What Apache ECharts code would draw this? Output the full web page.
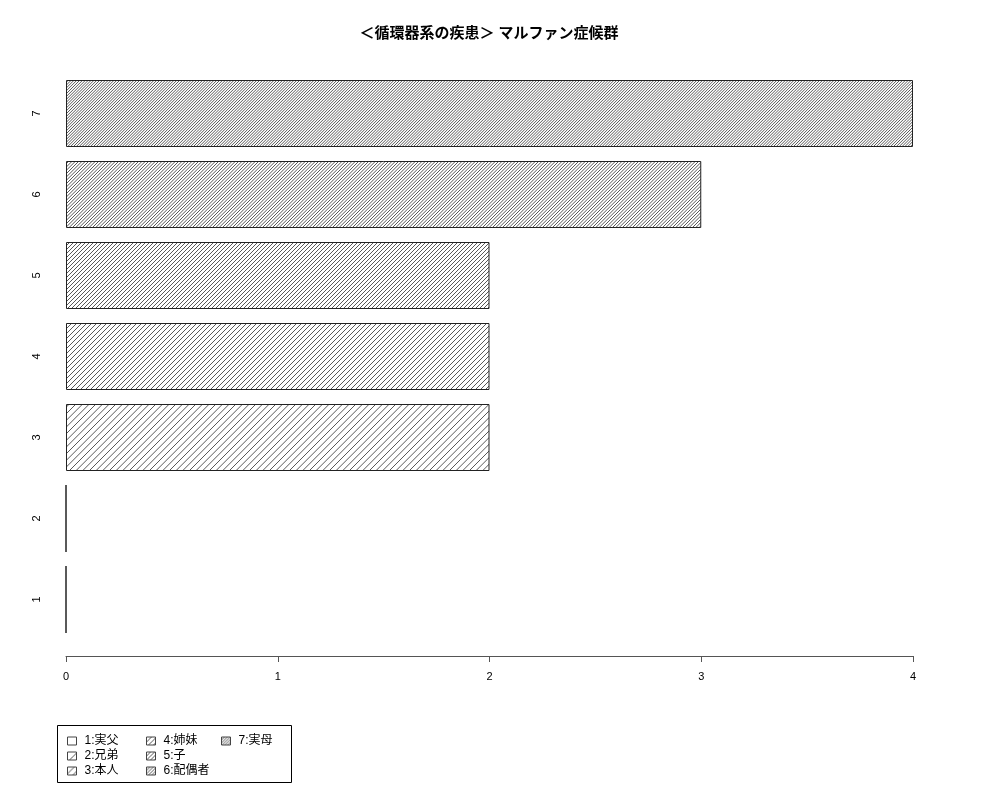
<!DOCTYPE html>
<html><head><meta charset="utf-8">
<script src="https://cdn.jsdelivr.net/npm/echarts@6/dist/echarts.min.js"></script>
<style>html,body{margin:0;padding:0;background:#fff}#c{width:1000px;height:800px}</style>
</head><body><div id="c"></div>
<script>
const categories = ['1','2','3','4','5','6','7'];
const seriesNames = ['1:実父','2:兄弟','3:本人','4:姉妹','5:子','6:配偶者','7:実母'];
const values = [0, 0, 2, 2, 2, 3, 4];
const xTicks = [0, 1, 2, 3, 4];
const titleText = '＜循環器系の疾患＞ マルファン症候群';

function hatch(n) {
  const T = 20;
  const cv = document.createElement('canvas');
  cv.width = T; cv.height = T;
  const g = cv.getContext('2d');
  g.fillStyle = '#fff'; g.fillRect(0,0,T,T);
  g.strokeStyle = '#222'; g.lineWidth = 0.75;
  const s = T / n;
  for (let k = -n; k <= 2*n; k++) {
    const c = k * s;
    g.beginPath();
    g.moveTo(-2, c + 2);
    g.lineTo(c + 2, -2);
    g.stroke();
  }
  return {image: cv, repeat: 'repeat'};
}

const font = '"Liberation Sans","Noto Sans CJK JP",sans-serif';
const series = seriesNames.map((name, i) => ({
  name: name,
  type: 'bar',
  barWidth: 67,
  barGap: '-100%',
  itemStyle: {color: hatch(i + 1), borderColor: '#222', borderWidth: 1},
  data: categories.map((c, j) => j === i ? values[i] : null)
}));

const legendBase = {
  orient: 'vertical', itemWidth: 9, itemHeight: 8, itemGap: 3,
  icon: 'rect',
  itemStyle: {borderColor: '#444', borderWidth: 1},
  textStyle: {fontSize: 12, fontFamily: font, color: '#000', padding: [0,0,0,3]},
  padding: 0
};
const chart = echarts.init(document.getElementById('c'));
chart.setOption({
  animation: false,
  backgroundColor: '#fff',
  title: {text: titleText, left: 484, textAlign: 'center', top: 21,
    textStyle: {fontSize: 15, fontWeight: 'bold', fontFamily: font, color: '#000'}},
  grid: {left: 66, right: 87, top: 73, bottom: 160, containLabel: false},
  xAxis: {type: 'value', min: 0, max: 4, interval: 1, offset: 16,
    axisLine: {show: true, lineStyle: {color: '#555', width: 1}},
    axisTick: {show: true, length: 6, lineStyle: {color: '#555'}},
    splitLine: {show: false},
    axisLabel: {fontSize: 11, fontFamily: font, color: '#000', margin: 15,
      formatter: v => xTicks.includes(v) ? String(v) : ''}},
  yAxis: {type: 'category', data: categories,
    axisLine: {show: false}, axisTick: {show: false},
    axisLabel: {rotate: 90, fontSize: 11, fontFamily: font, color: '#000', margin: 24}},
  legend: [
    Object.assign({}, legendBase, {left: 67, top: 735, data: seriesNames.slice(0,3)}),
    Object.assign({}, legendBase, {left: 146, top: 735, data: seriesNames.slice(3,6)}),
    Object.assign({}, legendBase, {left: 221, top: 735, data: seriesNames.slice(6)})
  ],
  graphic: [{type: 'rect', left: 55, top: 723, shape: {width: 234, height: 57},
    style: {fill: 'none', stroke: '#000', lineWidth: 1}, silent: true}],
  series: series
});
</script></body></html>
